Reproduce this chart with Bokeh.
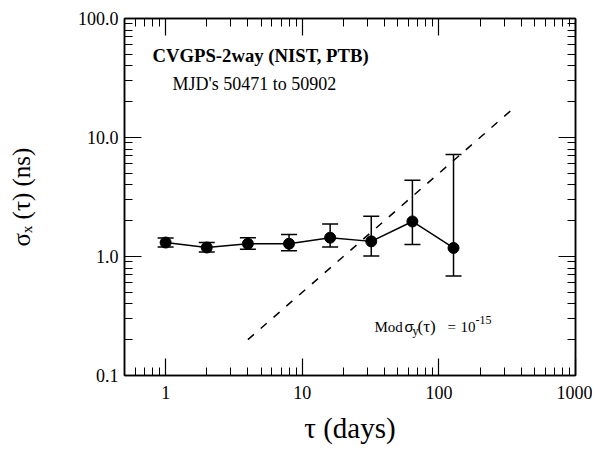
from bokeh.plotting import figure
from bokeh.models import (LogAxis, FixedTicker, Label, Whisker, TeeHead,
                          ColumnDataSource, Range1d, PrintfTickFormatter,
                          CustomJSTickFormatter)
from bokeh.embed import file_html
from bokeh.resources import INLINE

# ---- data ----
tau = [1, 2, 4, 8, 16, 32, 64, 128]
sigma_x = [1.31, 1.19, 1.28, 1.28, 1.44, 1.34, 1.97, 1.18]
sigma_hi = [1.43, 1.31, 1.44, 1.53, 1.88, 2.18, 4.38, 7.2]
sigma_lo = [1.20, 1.09, 1.15, 1.12, 1.20, 1.01, 1.26, 0.685]

ref_tau = [4, 340]          # Mod sigma_y(tau) = 1e-15 reference line
ref_sigma = [0.2, 17.0]

x_major = [1, 10, 100, 1000]
x_minor = [0.6, 0.7, 0.8, 0.9, 2, 3, 4, 5, 6, 7, 8, 9,
           20, 30, 40, 50, 60, 70, 80, 90, 200, 300, 400, 500, 600, 700, 800, 900]
y_major = [0.1, 1, 10, 100]
y_minor = [0.2, 0.3, 0.4, 0.5, 0.6, 0.7, 0.8, 0.9, 2, 3, 4, 5, 6, 7, 8, 9,
           20, 30, 40, 50, 60, 70, 80, 90]

SERIF = "Liberation Serif"
SANS = "Liberation Sans"

p = figure(width=592, height=446, x_axis_type="log", y_axis_type="log",
           x_range=Range1d(0.5, 1000), y_range=Range1d(0.1, 100),
           output_backend="svg", toolbar_location=None,
           min_border_left=124, min_border_right=17,
           min_border_top=18, min_border_bottom=70)
p.grid.visible = False
p.background_fill_color = "white"
p.border_fill_color = "white"
p.outline_line_color = "black"
p.outline_line_width = 1.5

def style_axis(ax, ticks, minor, fmt, show_labels):
    ax.ticker = FixedTicker(ticks=ticks, minor_ticks=minor)
    ax.major_tick_in = 17
    ax.major_tick_out = 0
    ax.minor_tick_in = 8
    ax.minor_tick_out = 0
    ax.major_tick_line_color = "black"
    ax.minor_tick_line_color = "black"
    ax.major_tick_line_width = 1.2
    ax.minor_tick_line_width = 1.0
    ax.axis_line_color = "black"
    ax.axis_line_width = 1.5
    ax.major_label_text_font = SERIF
    ax.major_label_text_color = "black"
    ax.major_label_text_font_size = "18px"
    if show_labels:
        ax.formatter = PrintfTickFormatter(format=fmt)
    else:
        ax.formatter = CustomJSTickFormatter(code="return ''")
        ax.major_label_standoff = 0

xb = p.xaxis[0]
yl = p.yaxis[0]
style_axis(xb, x_major, x_minor, "%d", True)
style_axis(yl, y_major, y_minor, "%.1f", True)
xb.major_label_standoff = 10
yl.major_label_standoff = 6

xb.axis_label = "τ (days)"
xb.axis_label_text_font = SERIF
xb.axis_label_text_font_size = "29px"
xb.axis_label_text_font_style = "normal"
xb.axis_label_text_color = "black"
xb.axis_label_standoff = 10

yl.axis_label = "σₓ (τ) (ns)"
yl.axis_label_text_font = SERIF
yl.axis_label_text_font_size = "25px"
yl.axis_label_text_font_style = "normal"
yl.axis_label_text_color = "black"
yl.axis_label_standoff = 40

xt = LogAxis()
yr = LogAxis()
style_axis(xt, x_major, x_minor, "%d", False)
style_axis(yr, y_major, y_minor, "%.1f", False)
p.add_layout(xt, "above")
p.add_layout(yr, "right")

# reference dashed line
p.line(ref_tau, ref_sigma, line_color="black", line_width=1.5, line_dash="8 9")

# data
src = ColumnDataSource(data=dict(tau=tau, s=sigma_x, hi=sigma_hi, lo=sigma_lo))
w = Whisker(base="tau", upper="hi", lower="lo", source=src, dimension="height",
            line_color="black", line_width=1.5,
            upper_head=TeeHead(size=16, line_width=1.5, line_color="black"),
            lower_head=TeeHead(size=16, line_width=1.5, line_color="black"))
p.add_layout(w)
p.line("tau", "s", source=src, line_color="black", line_width=1.5)
p.scatter("tau", "s", source=src, size=11, fill_color="black", line_color="black")

# text annotations (screen units relative to frame bottom-left)
def lab(text, x, y, size, font=SERIF, style="normal"):
    p.add_layout(Label(x=x, y=y, x_units="screen", y_units="screen", text=text,
                       text_font=font, text_font_size=size, text_font_style=style,
                       text_color="black", text_align="left",
                       text_baseline="alphabetic"))

lab("CVGPS-2way (NIST, PTB)", 28, 320, "18.7px", style="bold")
lab("MJD's 50471 to 50902", 48, 292, "18px")

B = 49
lab("Mod", 250, B, "15px")
lab("σ", 280, B, "15px", font=SANS)
lab("y", 288, B - 4, "12px")
lab("(τ)", 293, B, "17px")
lab("=", 323, B, "15px")
lab("10", 336, B, "15px")
lab("-15", 351, B + 7, "12px")

open("out.html", "w").write(file_html(p, INLINE))
